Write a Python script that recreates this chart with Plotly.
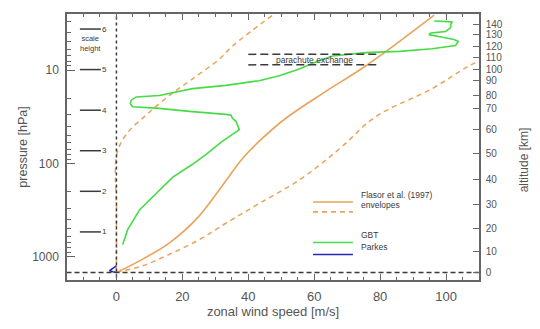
import math
import plotly.graph_objects as go

# ---------------- data ----------------
surface_p = 1467.0

flasor_u = [0, 7.0, 16.1, 24.8, 32.0, 38.3, 43.5, 51.4, 63.3, 75.7, 96.4]
flasor_p = [1467, 1101, 706, 375, 175, 88, 57.0, 32.8, 17.1, 9.0, 2.58]

env_lo_u = [0, 0, 0.1, 2.9, 9.0, 16.1, 23.1, 31.2, 35.2, 47.4]
env_lo_p = [1467, 300, 79.8, 49.2, 30.3, 18.7, 12.4, 7.66, 5.55, 2.58]

env_hi_u = [0, 7.9, 16.1, 25.2, 33.2, 43.3, 55.5, 67.6, 78.7, 95.8, 107, 113]
env_hi_p = [1467, 1245, 937, 651, 436, 268, 150, 70, 31.5, 15.8, 9.0, 7.1]

gbt_u = [1.9, 3.4, 7.0, 12.0, 17.1, 23.1, 27.2, 32.2, 36.3, 37.3, 36.3, 35.2, 34.8, 33.2,
         22.1, 13.0, 4.9, 4.2, 4.5, 6.0, 13.0, 23.1, 33.2, 43.3, 49.4, 55.5, 59.5, 65.5,
         75.7, 85.8, 95.8, 102.9, 103.7, 102.4, 98.9, 94.8, 95.4, 99.9, 101.4, 101.5,
         101.9, 99.4, 96.4]
gbt_p = [735, 511, 315, 210, 140, 102, 79.8, 57.7, 45.3, 43.5, 35.6, 32.8, 30.5, 29.8,
         27.7, 25.7, 24.7, 22.8, 21.0, 19.4, 18.7, 15.8, 14.6, 13.0, 11.5, 9.76, 8.44, 7.06,
         6.51, 6.31, 5.91, 5.46, 4.92, 4.72, 4.46, 4.18, 4.01, 3.86, 3.52, 3.2,
         3.05, 3.01, 2.98]

parkes_u = [0, -1.5, -2.1, -1.1, 0]
parkes_p = [1245, 1349, 1403, 1438, 1467]

parachute_u = [40, 80]
parachute_p_upper = 6.79
parachute_p_lower = 8.8
parachute_label_p = 7.74

scale_height_n = ["1", "2", "3", "4", "5", "6"]
scale_height_p = [540, 198.5, 73.0, 26.9, 9.88, 3.64]
scale_height_u = -7.9
scale_label_p = 5.26

alt_km = ["0", "10", "20", "30", "40", "50", "60", "70", "80", "90", "100", "110", "120", "130", "140"]
alt_p = [1467, 885, 499, 272, 148.6, 78.5, 43.6, 25.8, 18.7, 12.97, 9.76, 7.35, 5.55, 4.18, 3.28]

x_ticks = [0, 20, 40, 60, 80, 100]
p_ticks = [10, 100, 1000]
p_minor = [3, 4, 5, 6, 7, 8, 9, 20, 30, 40, 50, 60, 70, 80, 90, 200, 300, 400, 500, 600, 700, 800, 900]

x_range = [-15, 110]
logp_range = [3.247, 0.4]

# ---------------- styling ----------------
ORANGE = "#E9A35A"
GREEN = "#47DB47"
BLUE = "#2828B8"
DARK = "#3A3A3A"
AXIS = "#666666"
FONT = "Liberation Sans"

fig = go.Figure()

fig.add_trace(go.Scatter(x=env_lo_u, y=env_lo_p, mode="lines", line_shape="spline",
                         line=dict(color=ORANGE, width=1.5, dash="5px,4px"), showlegend=False))
fig.add_trace(go.Scatter(x=env_hi_u, y=env_hi_p, mode="lines", line_shape="spline",
                         line=dict(color=ORANGE, width=1.5, dash="5px,4px"), showlegend=False))
fig.add_trace(go.Scatter(x=flasor_u, y=flasor_p, mode="lines", line_shape="spline",
                         line=dict(color=ORANGE, width=1.6), showlegend=False))
fig.add_trace(go.Scatter(x=gbt_u, y=gbt_p, mode="lines",
                         line=dict(color=GREEN, width=1.6), showlegend=False))
fig.add_trace(go.Scatter(x=parkes_u, y=parkes_p, mode="lines",
                         line=dict(color=BLUE, width=1.6), showlegend=False))

# zero wind line
fig.add_trace(go.Scatter(x=[0, 0], y=[3000, 1], mode="lines",
                         line=dict(color=DARK, width=1.5, dash="3px,3px"), showlegend=False))
# surface line (on secondary axes so they render)
fig.add_trace(go.Scatter(x=[-20, 120], y=[surface_p, surface_p], mode="lines",
                         xaxis="x2", yaxis="y2",
                         line=dict(color=DARK, width=1.5, dash="5px,3px"), showlegend=False))

# parachute exchange
for pp in (parachute_p_upper, parachute_p_lower):
    fig.add_trace(go.Scatter(x=parachute_u, y=[pp, pp], mode="lines",
                             line=dict(color=DARK, width=1.5, dash="8px,4px"), showlegend=False))
fig.add_annotation(x=sum(parachute_u) / 2, y=math.log10(parachute_label_p), yref="y", xref="x",
                   text="parachute exchange", showarrow=False,
                   font=dict(size=8.5, color=DARK, family=FONT))

# scale height markers
fig.add_trace(go.Scatter(x=[scale_height_u] * len(scale_height_p), y=scale_height_p,
                         mode="markers", marker=dict(symbol="line-ew", size=15,
                                                     line=dict(color=DARK, width=1.5)),
                         showlegend=False))
for n, p in zip(scale_height_n, scale_height_p):
    fig.add_annotation(x=scale_height_u + 3.0, y=math.log10(p), xref="x", yref="y",
                       text=n, showarrow=False, xanchor="left",
                       font=dict(size=8, color=DARK, family=FONT))
fig.add_annotation(x=scale_height_u, y=math.log10(scale_label_p), xref="x", yref="y",
                   text="scale<br>height", showarrow=False,
                   font=dict(size=7.5, color=DARK, family=FONT))

# manual legend
leg = [("Flasor et al. (1997)", ORANGE, "solid", 0.293),
       ("envelopes", ORANGE, "5px,4px", 0.256),
       ("GBT", GREEN, "solid", 0.141),
       ("Parkes", BLUE, "solid", 0.096)]
for name, col, dash, yy in leg:
    fig.add_shape(type="line", xref="paper", yref="paper", x0=0.597, x1=0.694, y0=yy, y1=yy,
                  line=dict(color=col, width=1.6, dash=dash))
    fig.add_annotation(x=0.708, y=yy, xref="paper", yref="paper", text=name, showarrow=False,
                       xanchor="left", font=dict(size=8.5, color=DARK, family=FONT))

fig.add_annotation(x=1.13, y=0.452, xref="paper", yref="paper", text="altitude [km]",
                   showarrow=False, textangle=-90,
                   font=dict(size=12, color="#555555", family=FONT))

axis_common = dict(showline=True, linecolor=AXIS, linewidth=1.5, showgrid=False, zeroline=False)

fig.update_layout(
    width=540, height=329,
    margin=dict(l=67, r=61, t=14, b=45),
    paper_bgcolor="white", plot_bgcolor="white",
    font=dict(family=FONT, size=12, color="#555555"),
    showlegend=False,
    xaxis=dict(range=x_range, tickvals=x_ticks, ticks="inside", ticklen=6, tickcolor=AXIS,
               minor=dict(dtick=5, ticks="inside", ticklen=3, tickcolor=AXIS),
               ticklabelstandoff=4,
               title=dict(text="zonal wind speed [m/s]", font=dict(size=13), standoff=4),
               tickfont=dict(size=13), **axis_common),
    xaxis2=dict(range=x_range, overlaying="x", side="top", anchor="y2", showticklabels=False,
                tickvals=x_ticks, ticks="inside", ticklen=6, tickcolor=AXIS,
                minor=dict(dtick=5, ticks="inside", ticklen=3, tickcolor=AXIS),
                **axis_common),
    yaxis=dict(type="log", range=logp_range, tickvals=p_ticks, ticktext=[str(v) for v in p_ticks],
               ticks="inside", ticklen=8, tickcolor=AXIS,
               minor=dict(tickmode="array", tickvals=p_minor, ticks="inside", ticklen=4, tickcolor=AXIS),
               ticklabelstandoff=4,
               title=dict(text="pressure [hPa]", font=dict(size=12.5), standoff=2),
               **axis_common),
    yaxis2=dict(type="log", range=logp_range, overlaying="y", side="right", anchor="x2",
                tickmode="array", tickvals=alt_p, ticktext=alt_km,
                ticks="inside", ticklen=6, tickcolor=AXIS, ticklabelstandoff=3,
                tickfont=dict(size=10), **axis_common),
)

fig.write_html("out.html")
